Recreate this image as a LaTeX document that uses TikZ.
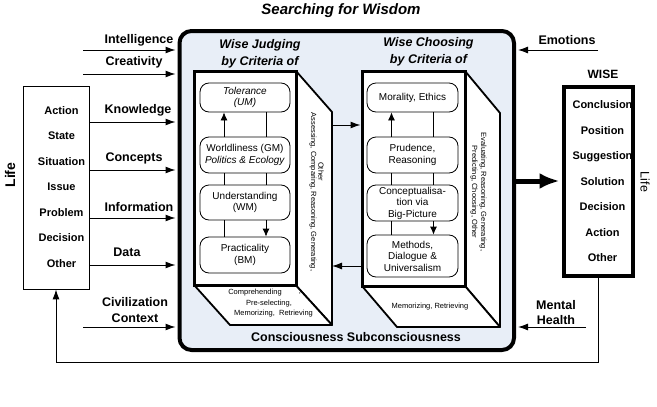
\documentclass[tikz,border=0pt]{standalone}
\usepackage{fontspec}
\setmainfont{Liberation Sans}
\usetikzlibrary{arrows.meta}
\definecolor{panel}{HTML}{E8EEF7}
\begin{document}
\begin{tikzpicture}[x=1pt,y=-1pt,
  lbl/.style={font=\fontsize{12.5}{14.5}\selectfont\bfseries, inner sep=0pt, align=center},
  itemlist/.style={font=\fontsize{11}{25.5}\selectfont\bfseries, inner sep=0pt, align=center},
  crit/.style={draw, rounded corners=9pt, line width=0.8pt, fill=white, align=center,
               font=\fontsize{10}{11.5}\selectfont, inner sep=0pt, minimum width=90pt},
  smalltxt/.style={font=\fontsize{7.5}{9}\selectfont, inner sep=0pt, align=center},
  arr/.style={-{Latex[length=10pt,width=7pt]}, line width=1pt},
  inarr/.style={-{Latex[length=8pt,width=7pt]}, line width=0.8pt},
  face/.style={draw, line width=1.8pt, fill=white, line join=round},
  front/.style={draw, line width=3pt, fill=white, inner sep=0pt}]
\useasboundingbox (0,0) rectangle (657,407);

% title
\node[font=\fontsize{15}{18}\selectfont\bfseries\itshape, inner sep=0pt] (title) at (341,11) {Searching for Wisdom};

% main panel
\node[draw, line width=4pt, rounded corners=12pt, fill=panel, inner sep=0pt,
      minimum width=334.5pt, minimum height=319pt] (big) at (346.75,190.5) {};

\node[font=\fontsize{12.5}{17}\selectfont\bfseries\itshape, inner sep=0pt, align=center] (wj) at (260,53.5) {Wise Judging\\by Criteria of};
\node[font=\fontsize{12.5}{17}\selectfont\bfseries\itshape, inner sep=0pt, align=center] (wc) at (428.5,51.5) {Wise Choosing\\by Criteria of};

% left prism faces
\coordinate (jtr) at (296,71);
\coordinate (jbl) at (194.5,285.5);
\coordinate (jbr) at (296,285.5);
\coordinate (jsidetop) at (332,112);
\coordinate (jsidebot) at (332,325);
\coordinate (jbotl) at (230,325);
\draw[face] (jtr) -- (jsidetop) -- (jsidebot) -- (jbr) -- cycle;
\draw[face] (jbl) -- (jbotl) -- (jsidebot) -- (jbr) -- cycle;
\node[front, minimum width=101.5pt, minimum height=214.5pt] (jf) at (245.25,178.25) {};

% right prism faces
\coordinate (ctr) at (465,71);
\coordinate (cbl) at (362,286);
\coordinate (cbr) at (465,286);
\coordinate (csidetop) at (500,113);
\coordinate (csidebot) at (500,327);
\coordinate (cbotl) at (397,327);
\draw[face] (ctr) -- (csidetop) -- (csidebot) -- (cbr) -- cycle;
\draw[face] (cbl) -- (cbotl) -- (csidebot) -- (cbr) -- cycle;
\node[front, minimum width=103pt, minimum height=215pt] (cf) at (413.5,178.5) {};

% side / bottom texts
\node[smalltxt, rotate=-90] (jside1) at (313,192) {Assessing, Comparing, Reasoning, Generating,};
\node[smalltxt, rotate=-90] (jside2) at (321,171.5) {Other};
\node[smalltxt, rotate=-90] (cside) at (478.5,192) {Evaluating, Reasoning, Generating,\\Predicting, Choosing, Other};
\node[smalltxt] (jb1) at (255,293) {Comprehending};
\node[smalltxt] (jbc) at (300,294) {,};
\node[smalltxt] (jb2) at (269,304) {Pre-selecting,};
\node[smalltxt] (jb3) at (273.5,314) {Memorizing, \ Retrieving};
\node[smalltxt] (cb1) at (430,307) {Memorizing, Retrieving};

% criteria boxes left
\node[crit, minimum height=29pt] (tol) at (245,97.5) {\textit{Tolerance}\\\textit{(UM)}};
\node[crit, minimum height=36pt] (wor) at (245,155) {Worldliness (GM)\\\textit{Politics \& Ecology}};
\node[crit, minimum height=35pt] (und) at (245,202.5) {Understanding\\(WM)};
\node[crit, minimum height=36pt] (pra) at (245,255) {Practicality\\(BM)};

% criteria boxes right
\node[crit, minimum width=91pt, minimum height=29pt] (mor) at (412.5,97.5) {Morality, Ethics};
\node[crit, minimum width=91pt, minimum height=36pt] (pru) at (412.5,155) {Prudence,\\Reasoning};
\node[crit, minimum width=91pt, minimum height=36pt] (con) at (412.5,203) {Conceptualisa-\\tion via\\Big-Picture};
\node[crit, minimum width=91pt, minimum height=42pt] (met) at (412.5,256) {Methods,\\Dialogue \&\\Universalism};

% inner connectors left
\draw[inarr] ([xshift=-21pt]wor.north) -- ([xshift=-21pt]tol.south);
\draw[line width=0.8pt] ([xshift=21pt]tol.south) -- ([xshift=21pt]wor.north);
\draw[line width=0.8pt] ([xshift=-21pt]wor.south) -- ([xshift=-21pt]und.north);
\draw[line width=0.8pt] ([xshift=21pt]wor.south) -- ([xshift=21pt]und.north);
\draw[line width=0.8pt] ([xshift=-21pt]und.south) -- ([xshift=-21pt]pra.north);
\draw[inarr] ([xshift=21pt]und.south) -- ([xshift=21pt]pra.north);

% inner connectors right
\draw[inarr] ([xshift=-21pt]pru.north) -- ([xshift=-21pt]mor.south);
\draw[line width=0.8pt] ([xshift=21pt]mor.south) -- ([xshift=21pt]pru.north);
\draw[line width=0.8pt] ([xshift=-21pt]pru.south) -- ([xshift=-21pt]con.north);
\draw[line width=0.8pt] ([xshift=21pt]pru.south) -- ([xshift=21pt]con.north);
\draw[line width=0.8pt] ([xshift=-21pt]con.south) -- ([xshift=-21pt]met.north);
\draw[inarr] ([xshift=21pt]con.south) -- ([xshift=21pt]met.north);

% arrows between prisms
\draw[arr] (jsidetop |- 0,125) -- (cf.west |- 0,125);
\draw[arr] (cf.west |- 0,266) -- (jsidetop |- 0,266);

\node[lbl] (consc) at (356,337) {Consciousness Subconsciousness};

% Life box (left)
\node[draw, line width=0.8pt, minimum width=66pt, minimum height=203pt, inner sep=0pt] (life) at (56,187.5) {};
\node[itemlist] (lifeitems) at (61.5,187) {Action\\State\\Situation\\Issue\\Problem\\Decision\\Other};
\node[font=\fontsize{14}{16}\selectfont\bfseries, inner sep=0pt, rotate=90] (lifeL) at (10,175) {Life};

% inputs
\coordinate (sInt) at (83,50);
\coordinate (sCre) at (83,74);
\coordinate (sCiv) at (83,327);
\node[lbl] (lInt) at (139,40) {Intelligence};
\node[lbl] (lCre) at (134,62) {Creativity};
\node[lbl] (lKno) at (138,110) {Knowledge};
\node[lbl] (lCon) at (134,158) {Concepts};
\node[lbl] (lInf) at (139,207) {Information};
\node[lbl] (lDat) at (127,252) {Data};
\node[lbl, font=\fontsize{12.5}{16}\selectfont\bfseries] (lCiv) at (135,310) {Civilization\\Context};
\draw[arr, shorten >=2pt] (sInt) -- (big.west |- sInt);
\draw[arr, shorten >=2pt] (sCre) -- (big.west |- sCre);
\draw[arr, shorten >=2pt] (life.east |- 0,122) -- (big.west |- 0,122);
\draw[arr, shorten >=2pt] (life.east |- 0,170) -- (big.west |- 0,170);
\draw[arr, shorten >=2pt] (life.east |- 0,218) -- (big.west |- 0,218);
\draw[arr, shorten >=2pt] (life.east |- 0,265) -- (big.west |- 0,265);
\draw[arr, shorten >=2pt] (sCiv) -- (big.west |- sCiv);

% right side inputs
\coordinate (sEmo) at (598,50);
\coordinate (sMen) at (586,327);
\node[lbl] (lEmo) at (567,40) {Emotions};
\node[lbl, font=\fontsize{12.5}{15}\selectfont\bfseries] (lMen) at (556,312.5) {Mental\\Health};
\draw[arr, shorten >=2pt] (sEmo) -- (big.east |- sEmo);
\draw[arr, shorten >=2pt] (sMen) -- (big.east |- sMen);

% WISE box
\node[lbl, font=\fontsize{12}{14}\selectfont\bfseries] (wiseL) at (603,74) {WISE};
\node[draw, line width=4pt, minimum width=69.5pt, minimum height=189pt, inner sep=0pt] (wise) at (598.25,181.5) {};
\node[itemlist] (wiseitems) at (602.5,181.5) {Conclusion\\Position\\Suggestion\\Solution\\Decision\\Action\\Other};
\node[font=\fontsize{12.5}{14}\selectfont, inner sep=0pt, rotate=-90] (lifeR) at (645,182) {Life};

% thick output arrow
\draw[line width=5pt, -{Latex[length=20pt,width=16pt]}, shorten >=2pt] (big.east |- 0,181) -- (wise.west |- 0,181);

% feedback loop
\draw[arr] (wise.south) -- (wise.south |- 0,362) -| (life.south);
\end{tikzpicture}
\end{document}
